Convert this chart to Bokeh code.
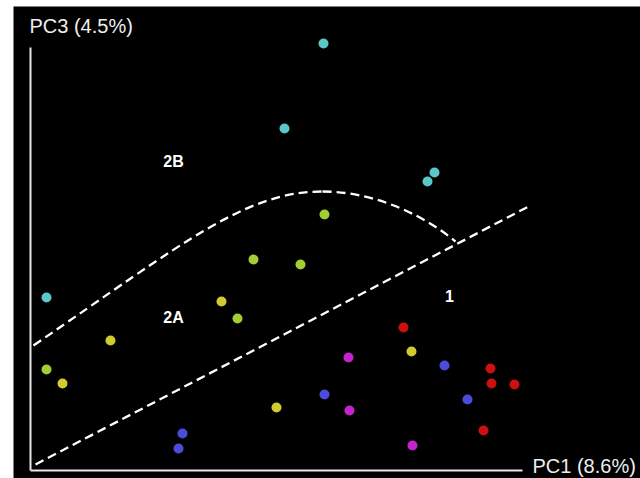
from bokeh.plotting import figure
from bokeh.models import Range1d, Spacer
from bokeh.layouts import row, column
from bokeh.embed import file_html
from bokeh.resources import INLINE
from bokeh.core.properties import value

# PC scores (arbitrary units; origin at axes corner)
cyan_x = [293, 254, 397, 404, 16]
cyan_y = [427, 342, 289, 298, 173]
green_x = [294, 223, 270, 207, 16]
green_y = [256, 211, 206, 152, 101]
yellow_x = [191, 80, 32, 246, 381]
yellow_y = [169, 130, 87, 63, 119]
blue_x = [152, 148, 294, 414, 437]
blue_y = [37, 22, 76, 105, 71]
magenta_x = [318, 319, 382]
magenta_y = [113, 60, 25]
red_x = [373, 460, 461, 484, 453]
red_y = [143, 102, 87, 86, 40]

# group boundary curve (two cubic Bezier pieces) and straight boundary
curve_x0 = [3, 292]
curve_y0 = [125, 279]
curve_x1 = [292, 425]
curve_y1 = [279, 229]
curve_cx0 = [155, 350]
curve_cy0 = [229, 279]
curve_cx1 = [215, 400]
curve_cy1 = [279, 250]
line_x = [5, 498]
line_y = [6, 264]

groups = ["2B", "2A", "1"]
group_x = [143, 143, 419]
group_y = [309, 153, 175]

x_label = "PC1 (8.6%)"
y_label = "PC3 (4.5%)"

p = figure(width=627, height=472, output_backend="svg", toolbar_location=None,
           x_range=Range1d(-17, 610), y_range=Range1d(-8, 464),
           min_border=0, background_fill_color="black", border_fill_color="black",
           outline_line_color=None)
p.axis.visible = False
p.grid.visible = False

# axes lines
p.line([0, 0], [0, 423], line_color="#e6e6e6", line_width=2)
p.line([0, 492], [0, 0], line_color="#e6e6e6", line_width=2)

# dashed boundaries
p.bezier(x0=curve_x0, y0=curve_y0, x1=curve_x1, y1=curve_y1,
         cx0=curve_cx0, cy0=curve_cy0, cx1=curve_cx1, cy1=curve_cy1,
         line_color="white", line_width=2.3, line_dash="9 5")
p.line(line_x, line_y, line_color="white", line_width=2.3, line_dash="9 5")

series = [
    (cyan_x, cyan_y, "#5cc6c8"),
    (green_x, green_y, "#a2cd34"),
    (yellow_x, yellow_y, "#cfcb30"),
    (blue_x, blue_y, "#4c4cdc"),
    (magenta_x, magenta_y, "#c424cc"),
    (red_x, red_y, "#cc1010"),
]
for xs, ys, c in series:
    p.scatter(xs, ys, size=10, fill_color=c, line_color=None)

p.text(group_x, group_y, text=groups, text_color="white", text_font=value("Liberation Sans"),
       text_font_size="16px", text_font_style="bold", text_align="center", text_baseline="middle")

p.text([-1], [445], text=[y_label], text_color="#eeeeee", text_font=value("Liberation Sans"),
       text_font_size="20px", text_align="left", text_baseline="middle")
p.text([502], [5], text=[x_label], text_color="#eeeeee", text_font=value("Liberation Sans"),
       text_font_size="20px", text_align="left", text_baseline="middle")

layout = column(Spacer(width=640, height=6), row(Spacer(width=13, height=472), p))
open("out.html", "w").write(file_html(layout, INLINE))
